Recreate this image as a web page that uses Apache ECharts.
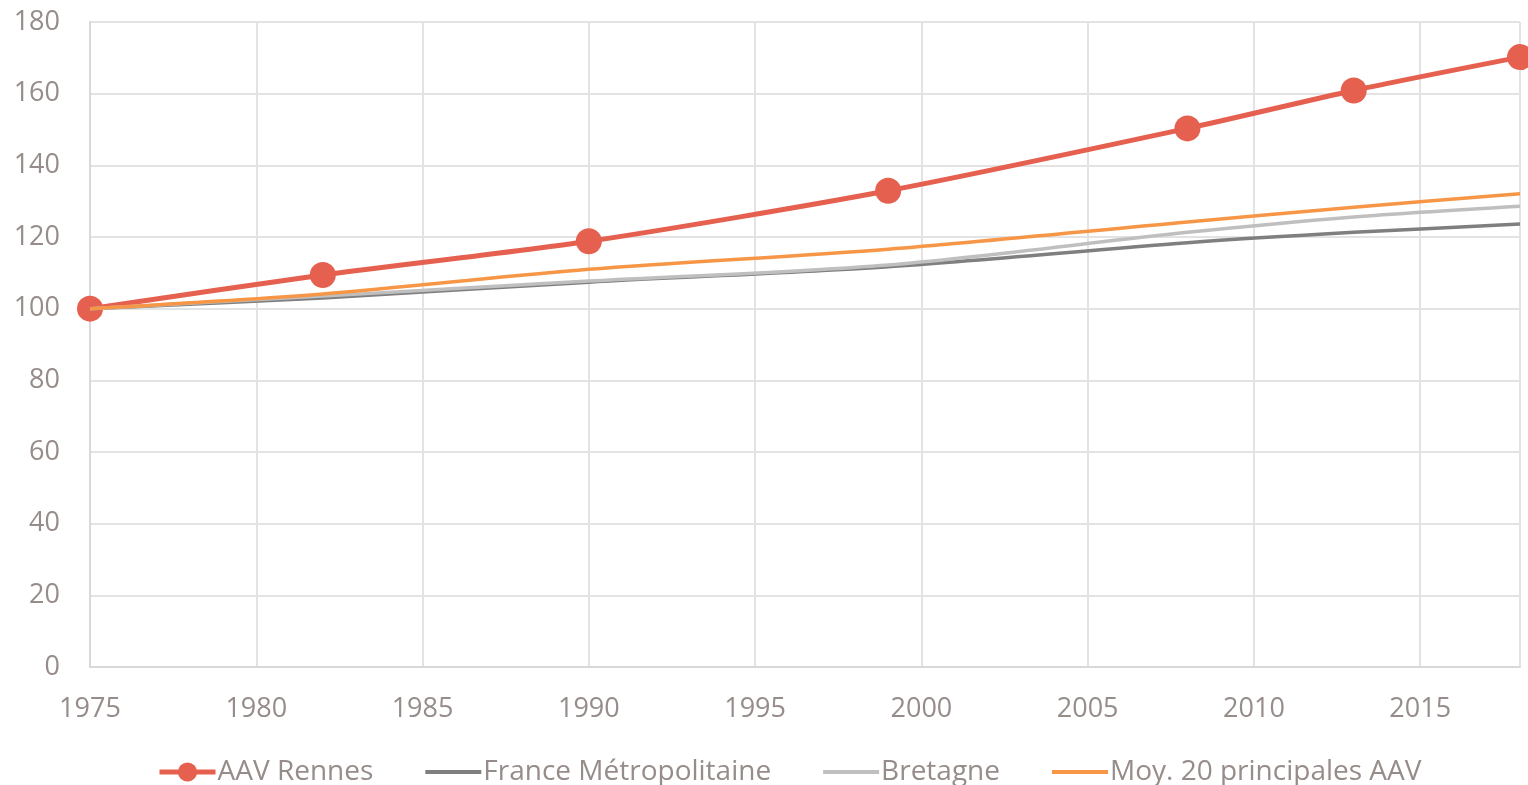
<!DOCTYPE html>
<html>
<head>
<meta charset="utf-8">
<script src="https://cdn.jsdelivr.net/npm/echarts@6/dist/echarts.min.js"></script>
<style>
  html, body { margin: 0; padding: 0; background: #fff; }
  #chart { width: 1528px; height: 785px; }
</style>
</head>
<body>
<div id="chart"></div>
<script>
// années de recensement
const years = [1975, 1982, 1990, 1999, 2008, 2013, 2018]
const rennes = [100, 109.4, 118.8, 132.9, 150.3, 160.9, 170.2]
const france = [100, 103.0, 107.4, 111.7, 118.4, 121.3, 123.6]
const bretagne = [100, 103.5, 107.7, 112.2, 121.3, 125.6, 128.6]
const moy20 = [100, 104.1, 111.0, 116.6, 124.2, 128.3, 132.1]
const seriesNames = ['AAV Rennes', 'France Métropolitaine', 'Bretagne', 'Moy. 20 principales AAV']

const textColor = '#968c89'
const font = 'Open Sans'

const pairs = arr => years.map((y, i) => [y, arr[i]])

const chart = echarts.init(document.getElementById('chart'))
chart.setOption({
  animation: false,
  textStyle: { fontFamily: font },
  grid: { left: 90, right: 8, top: 22, bottom: 118 },
  legend: {
    top: 753,
    left: 152,
    itemWidth: 56,
    itemHeight: 24,
    itemGap: 50,
    lineStyle: { width: 5 },
    textStyle: { color: textColor, fontSize: 28, fontFamily: font, padding: [0, 0, 0, -3] },
    data: [
      { name: seriesNames[0] },
      { name: seriesNames[1], itemStyle: { opacity: 0 }, lineStyle: { width: 4 } },
      { name: seriesNames[2], itemStyle: { opacity: 0 }, lineStyle: { width: 4 } },
      { name: seriesNames[3], itemStyle: { opacity: 0 }, lineStyle: { width: 4 } }
    ]
  },
  xAxis: {
    type: 'value',
    min: 1975,
    max: 2018,
    interval: 5,
    axisLine: { lineStyle: { color: '#d9d9d9', width: 2 } },
    axisTick: { show: false },
    splitLine: { lineStyle: { color: '#e3e3e3', width: 2 } },
    axisLabel: {
      color: textColor, fontSize: 27, margin: 29, fontFamily: font,
      showMaxLabel: false,
      formatter: v => (v % 5 === 0 ? String(v) : '')
    }
  },
  yAxis: {
    type: 'value',
    min: 0,
    max: 180,
    interval: 20,
    axisLine: { show: true, lineStyle: { color: '#d9d9d9', width: 2 } },
    axisTick: { show: false },
    splitLine: { lineStyle: { color: '#e3e3e3', width: 2 } },
    axisLabel: { color: textColor, fontSize: 27, margin: 30, fontFamily: font }
  },
  series: [
    {
      name: seriesNames[0],
      type: 'line',
      data: pairs(rennes),
      smooth: 0.25,
      symbol: 'circle',
      symbolSize: 26,
      color: '#e5604f',
      lineStyle: { width: 5 },
      z: 2
    },
    {
      name: seriesNames[1],
      type: 'line',
      data: pairs(france),
      smooth: 0.3,
      symbol: 'none',
      color: '#7f7f7f',
      lineStyle: { width: 3.5 },
      z: 3
    },
    {
      name: seriesNames[2],
      type: 'line',
      data: pairs(bretagne),
      smooth: 0.3,
      symbol: 'none',
      color: '#bfbfbf',
      lineStyle: { width: 3.5 },
      z: 4
    },
    {
      name: seriesNames[3],
      type: 'line',
      data: pairs(moy20),
      smooth: 0.3,
      symbol: 'none',
      color: '#f79646',
      lineStyle: { width: 3.5 },
      z: 5
    }
  ]
})
</script>
</body>
</html>
